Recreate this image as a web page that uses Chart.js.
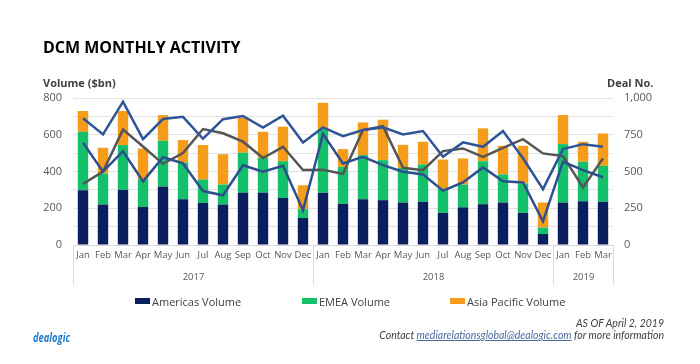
<!DOCTYPE html>
<html>
<head>
<meta charset="utf-8">
<script src="https://cdn.jsdelivr.net/npm/chart.js@4.4.1/dist/chart.umd.min.js"></script>
<style>
  html, body { margin: 0; padding: 0; background: #fff; }
  #wrap { position: relative; width: 700px; height: 364px; overflow: hidden; font-family: "Open Sans", sans-serif; }
  #c { position: absolute; left: 0; top: 0; }
  .title { position: absolute; left: 43px; top: 39px; font-size: 16px; line-height: 1; font-weight: bold; color: #000; }
  .axlab { position: absolute; top: 77px; font-size: 11px; line-height: 1; font-weight: bold; color: #404040; }
  .legend { position: absolute; top: 296px; font-size: 11px; line-height: 12px; color: #404040; white-space: nowrap; }
  .legend i { display: inline-block; width: 15px; height: 6px; margin-right: 2px; vertical-align: 2px; }
  .logo { position: absolute; left: 33px; top: 328px; font-size: 13px; font-weight: bold; font-style: italic; color: #1f78c8; transform: scaleX(0.72); transform-origin: 0 0; }
  #notes { position: absolute; right: 36px; top: 317px; font-family: Lato, sans-serif; font-style: italic; font-size: 10.5px; line-height: 12px; color: #404040; text-align: right; white-space: nowrap; }
  #notes a { color: #4a6a9c; text-decoration: underline; }
</style>
</head>
<body>
<div id="wrap">
  <canvas id="c" width="700" height="364"></canvas>
  <div class="title">DCM MONTHLY ACTIVITY</div>
  <div class="axlab" style="left:43px">Volume ($bn)</div>
  <div class="axlab" style="left:607px">Deal No.</div>
  <div id="legend"></div>
  <div class="logo">dealogic</div>
  <div id="notes">AS OF April 2, 2019<br>Contact <a>mediarelationsglobal@dealogic.com</a> for more information</div>
</div>
<script>
// months Jan 2017 - Mar 2019
const months = ['Jan','Feb','Mar','Apr','May','Jun','Jul','Aug','Sep','Oct','Nov','Dec',
                'Jan','Feb','Mar','Apr','May','Jun','Jul','Aug','Sep','Oct','Nov','Dec',
                'Jan','Feb','Mar'];
const years = ['2017', '2018', '2019'];
const yearFirst = [0, 12, 24];
const yearLast = [11, 23, 26];

// volume ($bn), stacked bars
const americasVol = [298,220,300,207,318,249,229,220,285,285,256,147, 284,224,249,244,231,235,175,205,222,231,175,60, 231,238,235];
const emeaVol     = [318,169,244,151,249,200,127,109,217,190,200,48,  347,201,240,218,189,203,132,124,234,153,160,35, 318,215,196];
const apacVol     = [113,140,185,167,140,122,188,165,191,141,188,130, 143,97,178,220,125,124,158,142,179,156,205,136, 158,109,176];

// deal numbers (right axis)
const americasDeals = [862,752,975,720,857,872,723,856,878,799,880,698, 800,741,782,800,752,775,600,698,668,775,590,380, 652,686,668];
const emeaDeals     = [695,499,638,433,597,555,367,338,542,499,539,236, 755,555,600,543,498,480,370,425,528,434,425,161, 567,509,461];
const apacDeals     = [416,499,785,670,552,625,789,760,703,592,668,510, 512,484,782,808,525,509,639,657,600,661,720,623, 605,391,589];

const leftTicks = [0, 200, 400, 600, 800];
const rightTicks = [0, 250, 500, 750, 1000];

Chart.defaults.font.family = '"Open Sans", sans-serif';
Chart.defaults.font.size = 11;
Chart.defaults.color = '#595959';

const barSets = [
  { label: 'Americas Volume', data: americasVol, color: '#0a1f5c' },
  { label: 'EMEA Volume', data: emeaVol, color: '#14c06a' },
  { label: 'Asia Pacific Volume', data: apacVol, color: '#f59c1a' }
];
const lineSets = [
  { label: 'Americas Deal No.', data: americasDeals, color: '#2f5597' },
  { label: 'EMEA Deal No.', data: emeaDeals, color: '#2d4f8e' },
  { label: 'Asia Pacific Deal No.', data: apacDeals, color: '#555555' }
];

// year row under the month labels
const yearAxis = {
  id: 'yearAxis',
  afterDraw(chart) {
    const x = chart.scales.x;
    const ctx = chart.ctx;
    const half = (x.getPixelForValue(1) - x.getPixelForValue(0)) / 2;
    const top = chart.chartArea.bottom;
    ctx.save();
    ctx.strokeStyle = '#d9d9d9';
    ctx.lineWidth = 1;
    ctx.fillStyle = '#595959';
    ctx.font = '9.5px "Open Sans"';
    ctx.textAlign = 'center';
    ctx.textBaseline = 'middle';
    years.forEach((y, i) => {
      const l = Math.round(x.getPixelForValue(yearFirst[i]) - half) + 0.5;
      const r = Math.round(x.getPixelForValue(yearLast[i]) + half) + 0.5;
      ctx.beginPath();
      ctx.moveTo(l, top); ctx.lineTo(l, top + 40);
      if (i === years.length - 1) { ctx.moveTo(r, top); ctx.lineTo(r, top + 40); }
      ctx.stroke();
      ctx.fillText(y, (l + r) / 2, top + 32);
    });
    ctx.restore();
  }
};

new Chart(document.getElementById('c'), {
  data: {
    labels: months,
    datasets: [
      ...barSets.map(s => ({
        type: 'bar', label: s.label, data: s.data, backgroundColor: s.color,
        yAxisID: 'y', stack: 'vol', order: 1,
        categoryPercentage: 1, barPercentage: 0.52
      })),
      ...lineSets.map(s => ({
        type: 'line', label: s.label, data: s.data, borderColor: s.color,
        borderWidth: 2.5, pointRadius: 0, tension: 0, yAxisID: 'y1', order: 0
      }))
    ]
  },
  options: {
    responsive: false,
    animation: false,
    layout: { padding: { left: 30, right: 40, top: 98, bottom: 89 } },
    plugins: { legend: { display: false }, tooltip: { enabled: false } },
    scales: {
      x: {
        stacked: true,
        grid: { display: false, drawTicks: false },
        border: { color: '#d9d9d9' },
        ticks: { autoSkip: false, maxRotation: 0, padding: 5, font: { size: 9.5 } },
        afterFit(s) { s.height = 30; }
      },
      y: {
        stacked: true, min: 0, max: 800,
        grid: { color: '#e3e3e3', drawTicks: false },
        border: { display: false },
        ticks: { stepSize: 100, padding: 11, callback: v => leftTicks.includes(v) ? v : '' },
        afterFit(s) { s.width = 43; }
      },
      y1: {
        position: 'right', min: 0, max: 1000,
        grid: { display: false, drawTicks: false },
        border: { display: false },
        ticks: { stepSize: 250, padding: 11, callback: v => rightTicks.includes(v) ? v.toLocaleString('en-US') : '' },
        afterFit(s) { s.width = 47; }
      }
    }
  },
  plugins: [yearAxis]
});

// legend for the volume series only
const legendX = [135, 302, 450];
document.getElementById('legend').innerHTML = barSets.map((s, i) =>
  '<div class="legend" style="left:' + legendX[i] + 'px"><i style="background:' + s.color + '"></i>' + s.label + '</div>'
).join('');
</script>
</body>
</html>
